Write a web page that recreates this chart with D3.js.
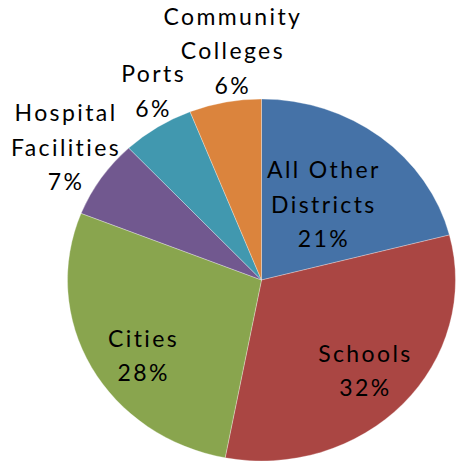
<!DOCTYPE html>
<html>
<head>
<meta charset="utf-8">
<script src="https://cdn.jsdelivr.net/npm/d3@7/dist/d3.min.js"></script>
<style>
  html, body { margin: 0; padding: 0; background: #fff; }
  svg { display: block; }
  text { font-family: Lato, "Open Sans", sans-serif; fill: #000; }
</style>
</head>
<body>
<svg id="chart" width="461" height="463"></svg>
<script>
// Share of total by district type (percent)
const categories = ["All Other Districts", "Schools", "Cities", "Hospital Facilities", "Ports", "Community Colleges"];
const values = [21, 32, 28, 7, 6, 6];
// Label text broken into lines as displayed
const labelLines = [
  ["All Other", "Districts"],
  ["Schools"],
  ["Cities"],
  ["Hospital", "Facilities"],
  ["Ports"],
  ["Community", "Colleges"]
];
const colors = ["#4572A7", "#AA4643", "#89A54E", "#71588F", "#4198AF", "#DB843D"];

// Layout
const width = 461, height = 463;
const cx = 261.5, cy = 280;
const ry = 181, rx = 194;
const sx = rx / ry;
const labelRadius = [95, 133, 133, 225, 214, 232];
const labelNudge = [[0, 0], [0, 0], [7, 12], [4, -6], [15, -8], [18, -1]];
const lineHeight = 34.5;
const capHeight = 16;

const svg = d3.select("#chart");

const pie = d3.pie().sort(null).value(d => d)(values);
const arc = d3.arc().innerRadius(0).outerRadius(ry);

const g = svg.append("g").attr("transform", `translate(${cx},${cy}) scale(${sx},1)`);
g.selectAll("path")
  .data(pie)
  .join("path")
  .attr("d", arc)
  .attr("fill", (d, i) => colors[i])
  .attr("stroke", "rgba(255,255,255,0.5)")
  .attr("stroke-width", 0.6)
  .attr("vector-effect", "non-scaling-stroke");

const fmt = d3.format(".0%");
const total = d3.sum(values);

const labels = svg.append("g");
pie.forEach((d, i) => {
  const a = (d.startAngle + d.endAngle) / 2;
  const r = labelRadius[i];
  const x = cx + Math.sin(a) * r * sx + labelNudge[i][0];
  const yc = cy - Math.cos(a) * r + labelNudge[i][1];
  const lines = labelLines[i].concat([fmt(values[i] / total)]);
  const n = lines.length;
  const t = labels.append("text")
    .attr("text-anchor", "middle")
    .style("font-size", "23px")
    .style("letter-spacing", "2.4px");
  lines.forEach((s, k) => {
    t.append("tspan")
      .attr("x", x)
      .attr("y", yc - (n - 1) * lineHeight / 2 + k * lineHeight + capHeight / 2)
      .text(s);
  });
});
</script>
</body>
</html>
